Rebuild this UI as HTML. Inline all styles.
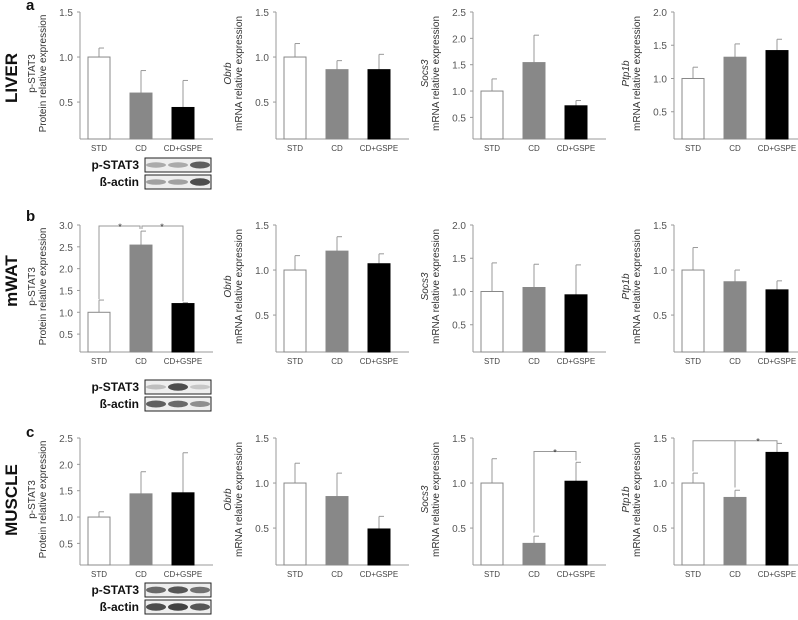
<!DOCTYPE html>
<html><head><meta charset="utf-8"><style>
body{margin:0;background:#fff;width:798px;height:620px;overflow:hidden}
svg{display:block;font-family:"Liberation Sans",sans-serif}
</style></head><body>
<svg id="fig" width="798" height="620"></svg>
<script>
const groups = ["STD","CD","CD+GSPE"];
const rowNames = ["LIVER","mWAT","MUSCLE"];
const rowLetters = ["a","b","c"];
const genes = ["p-STAT3","Obrb","Socs3","Ptp1b"];
const axisMax = [[1.5,1.5,2.5,2.0],[3.0,1.5,2.0,1.5],[2.5,1.5,1.5,1.5]];
const means = [
 [[1.0,0.6,0.44],[1.0,0.86,0.86],[1.0,1.54,0.72],[1.0,1.32,1.42]],
 [[1.0,2.54,1.2],[1.0,1.21,1.07],[1.0,1.06,0.95],[1.0,0.87,0.78]],
 [[1.0,1.44,1.46],[1.0,0.85,0.49],[1.0,0.33,1.02],[1.0,0.84,1.34]]];
const errs = [
 [[0.1,0.25,0.3],[0.15,0.1,0.17],[0.23,0.52,0.1],[0.17,0.2,0.17]],
 [[0.28,0.32,0.02],[0.16,0.16,0.11],[0.43,0.35,0.45],[0.25,0.13,0.1]],
 [[0.1,0.42,0.76],[0.22,0.26,0.14],[0.27,0.08,0.21],[0.11,0.08,0.1]]];
const yMin = 0.09;
const panelLeft=[80,276,473,674], rowTop=[12,225,438], plotH=127, plotW=133;
const barOff=[8,50,92], barW=22;
const fills=["#fff","#888","#000"];
const svg=document.getElementById('fig');
const NS="http://www.w3.org/2000/svg";
function mk(t,a,p){const e=document.createElementNS(NS,t);for(const k in a)e.setAttribute(k,a[k]);(p||svg).appendChild(e);return e;}
function yS(r,c,v){const m=axisMax[r][c];return rowTop[r]+(m-v)/(m-yMin)*plotH;}
function xS(c,i){return panelLeft[c]+barOff[i];}
const rowLabelY=[78,281,500], letterY=[10,221,437], blotY=[158,380,583];
for(let r=0;r<3;r++){
 const rl=mk('text',{x:0,y:0,transform:`translate(17,${rowLabelY[r]}) rotate(-90)`,'text-anchor':'middle','font-size':17,'font-weight':'bold',fill:'#111'});
 rl.textContent=rowNames[r];
 
 
 const lt=mk('text',{x:26,y:letterY[r],'font-size':15,'font-weight':'bold',fill:'#111'});
 lt.textContent=rowLetters[r];
 
 
 for(let c=0;c<4;c++){
  const g=mk('g',{});
  
  
  const L=panelLeft[c], B=rowTop[r]+plotH;
  mk('line',{x1:L,y1:rowTop[r],x2:L,y2:B,stroke:'#999','stroke-width':1},g);
  mk('line',{x1:L,y1:B,x2:L+plotW,y2:B,stroke:'#999','stroke-width':1},g);
  for(let v=0.5;v<=axisMax[r][c]+1e-6;v+=0.5){
   const y=yS(r,c,v);
   mk('line',{x1:L-3,y1:y,x2:L,y2:y,stroke:'#999'},g);
   const t=mk('text',{x:L-7,y:y+4,'text-anchor':'end','font-size':10,fill:'#555'},g);
   t.textContent=v.toFixed(1);
   
   
  }
  for(let i=0;i<3;i++){
   const x=xS(c,i), yt=yS(r,c,means[r][c][i]), ye=yS(r,c,means[r][c][i]+errs[r][c][i]);
   const cx=x+barW/2;
   const el=mk('line',{x1:cx,y1:yt,x2:cx,y2:ye,stroke:'#999'},g);
   
   
   mk('line',{x1:cx,y1:ye,x2:cx+5,y2:ye,stroke:'#999'},g);
   const b=mk('rect',{x:x,y:yt,width:barW,height:B-yt,fill:fills[i],stroke:i==0?'#888':fills[i],'stroke-width':1},g);
   
   
   const tl=mk('text',{x:cx,y:B+12,'text-anchor':'middle','font-size':8,fill:'#444'},g);
   tl.textContent=groups[i];
   
   
  }
  const lab=mk('text',{transform:`translate(${L-45},${rowTop[r]+plotH/2-2}) rotate(-90)`,'text-anchor':'middle','font-size':10,fill:'#333'},g);
  
  
  const t1=mk('tspan',{x:0,dy:0,'font-style':c==0?'normal':'italic'},lab);t1.textContent=genes[c];
  const t2=mk('tspan',{x:0,dy:11},lab);t2.textContent=c==0?'Protein relative expression':'mRNA relative expression';
 }
 const by=blotY[r];
 const bands=[[0.35,0.35,0.75],[0.25,0.85,0.2],[0.7,0.8,0.65]][r];
 const act=[[0.4,0.4,0.85],[0.75,0.7,0.5],[0.85,0.9,0.8]][r];
 [['p-STAT3',bands,0],['ß-actin',act,17]].forEach(([nm,vals,dy])=>{
  const bg=mk('g',{});
  
  
  const t=mk('text',{x:139,y:by+dy+11,'text-anchor':'end','font-size':12,'font-weight':'bold',fill:'#111'},bg);
  t.textContent=nm;
  mk('rect',{x:145,y:by+dy,width:66,height:14,fill:'#eee',stroke:'#222'},bg);
  vals.forEach((v,i)=>{mk('ellipse',{cx:156+i*22,cy:by+dy+7,rx:10,ry:2+v*2,fill:'#000','fill-opacity':v*0.8},bg);});
 });
}
function star(x,y){const s=mk('text',{x:x,y:y+4,'text-anchor':'middle','font-size':9,fill:'#333'});s.textContent='*';}
function bracket(pts){const p=mk('polyline',{points:pts.map(q=>q.join(',')).join(' '),fill:'none',stroke:'#999'});}
{const r=1,c=0,top=yS(r,c,3.0)+1;const x0=xS(c,0)+11,x1=xS(c,1)+11,x2=xS(c,2)+11;
 bracket([[x0,yS(r,c,1.3)],[x0,top],[x1-1,top],[x1-1,top+3]]);
 bracket([[x1+1,top+3],[x1+1,top],[x2,top],[x2,yS(r,c,1.25)]]);
 star((x0+x1)/2,top);star((x1+x2)/2,top);}
{const r=2,c=2,top=yS(r,c,1.35);const x1=xS(c,1)+11,x2=xS(c,2)+11;
 bracket([[x1,yS(r,c,0.45)],[x1,top],[x2,top],[x2,yS(r,c,1.25)]]);star((x1+x2)/2,top);}
{const r=2,c=3,top=yS(r,c,1.47);const x0=xS(c,0)+11,x1=xS(c,1)+11,x2=xS(c,2)+11;
 bracket([[x0,yS(r,c,1.13)],[x0,top],[x2,top],[x2,yS(r,c,1.44)]]);
 bracket([[x1,yS(r,c,0.95)],[x1,top]]);star((x1+x2)/2+2,top);}
</script>
</body></html>
